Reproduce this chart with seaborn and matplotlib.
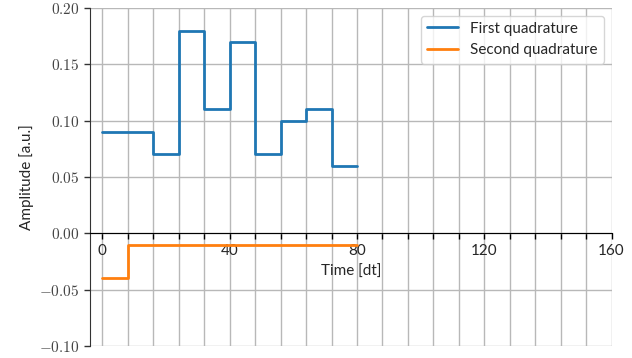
import matplotlib
matplotlib.use("Agg")
import matplotlib.pyplot as plt
import seaborn as sns
import numpy as np
import pandas as pd
from matplotlib.ticker import MultipleLocator, FixedLocator, FuncFormatter

# Data
time_dt = [0, 8, 16, 24, 32, 40, 48, 56, 64, 72, 80]
first_quadrature = [0.09, 0.09, 0.07, 0.18, 0.11, 0.17, 0.07, 0.10, 0.11, 0.06, 0.06]
second_quadrature = [-0.04, -0.01, -0.01, -0.01, -0.01, -0.01, -0.01, -0.01, -0.01, -0.01, -0.01]
x_major_ticks = [0, 40, 80, 120, 160]
y_ticks = [-0.10, -0.05, 0.00, 0.05, 0.10, 0.15, 0.20]

sns.set_style("white")
plt.rcParams['font.family'] = ['Lato', 'DejaVu Sans']
plt.rcParams['mathtext.fontset'] = 'cm'

fig = plt.figure(figsize=(6.32, 3.58), dpi=100)
ax = fig.add_axes([90/632, 1 - 346/358, (611.5-90)/632, (346-8)/358])

sns.lineplot(x=time_dt, y=first_quadrature, drawstyle='steps-post', color='#1f77b4',
             linewidth=2, label='First quadrature', ax=ax)
sns.lineplot(x=time_dt, y=second_quadrature, drawstyle='steps-post', color='#ff7f0e',
             linewidth=2, label='Second quadrature', ax=ax)

ax.set_xlim(-3.9, 160)
ax.set_ylim(-0.10, 0.20)
ax.xaxis.set_major_locator(FixedLocator(x_major_ticks))
ax.xaxis.set_minor_locator(MultipleLocator(8))
ax.yaxis.set_major_locator(FixedLocator(y_ticks))
ax.yaxis.set_major_formatter(FuncFormatter(lambda v, p: r'$%.2f$' % v))

ax.grid(True, which='both', axis='x', color='#b8b8b8', linewidth=1)
ax.grid(True, which='major', axis='y', color='#b8b8b8', linewidth=1)
ax.set_axisbelow(True)

ax.spines['top'].set_visible(False)
ax.spines['right'].set_visible(False)
ax.spines['bottom'].set_position(('data', 0))
ax.spines['bottom'].set_color('black')
ax.spines['left'].set_color('#333333')
ax.tick_params(axis='x', which='both', direction='out', length=4, width=1, color='black',
               labelsize=11, bottom=True)
ax.tick_params(axis='y', which='major', direction='out', length=4, width=1, labelsize=11,
               left=True, colors='#333333')
ax.tick_params(axis='y', labelcolor='#444444')

ax.set_xlabel('Time [dt]', fontsize=11)
ax.xaxis.set_label_coords(0.5, 0.24)
ax.set_ylabel('Amplitude [a.u.]', fontsize=11)
ax.yaxis.set_label_coords(-0.108, 0.5)

leg = ax.legend(loc='upper right', fontsize=11, frameon=True, framealpha=0.8)

fig.savefig('out.png', dpi=100)
